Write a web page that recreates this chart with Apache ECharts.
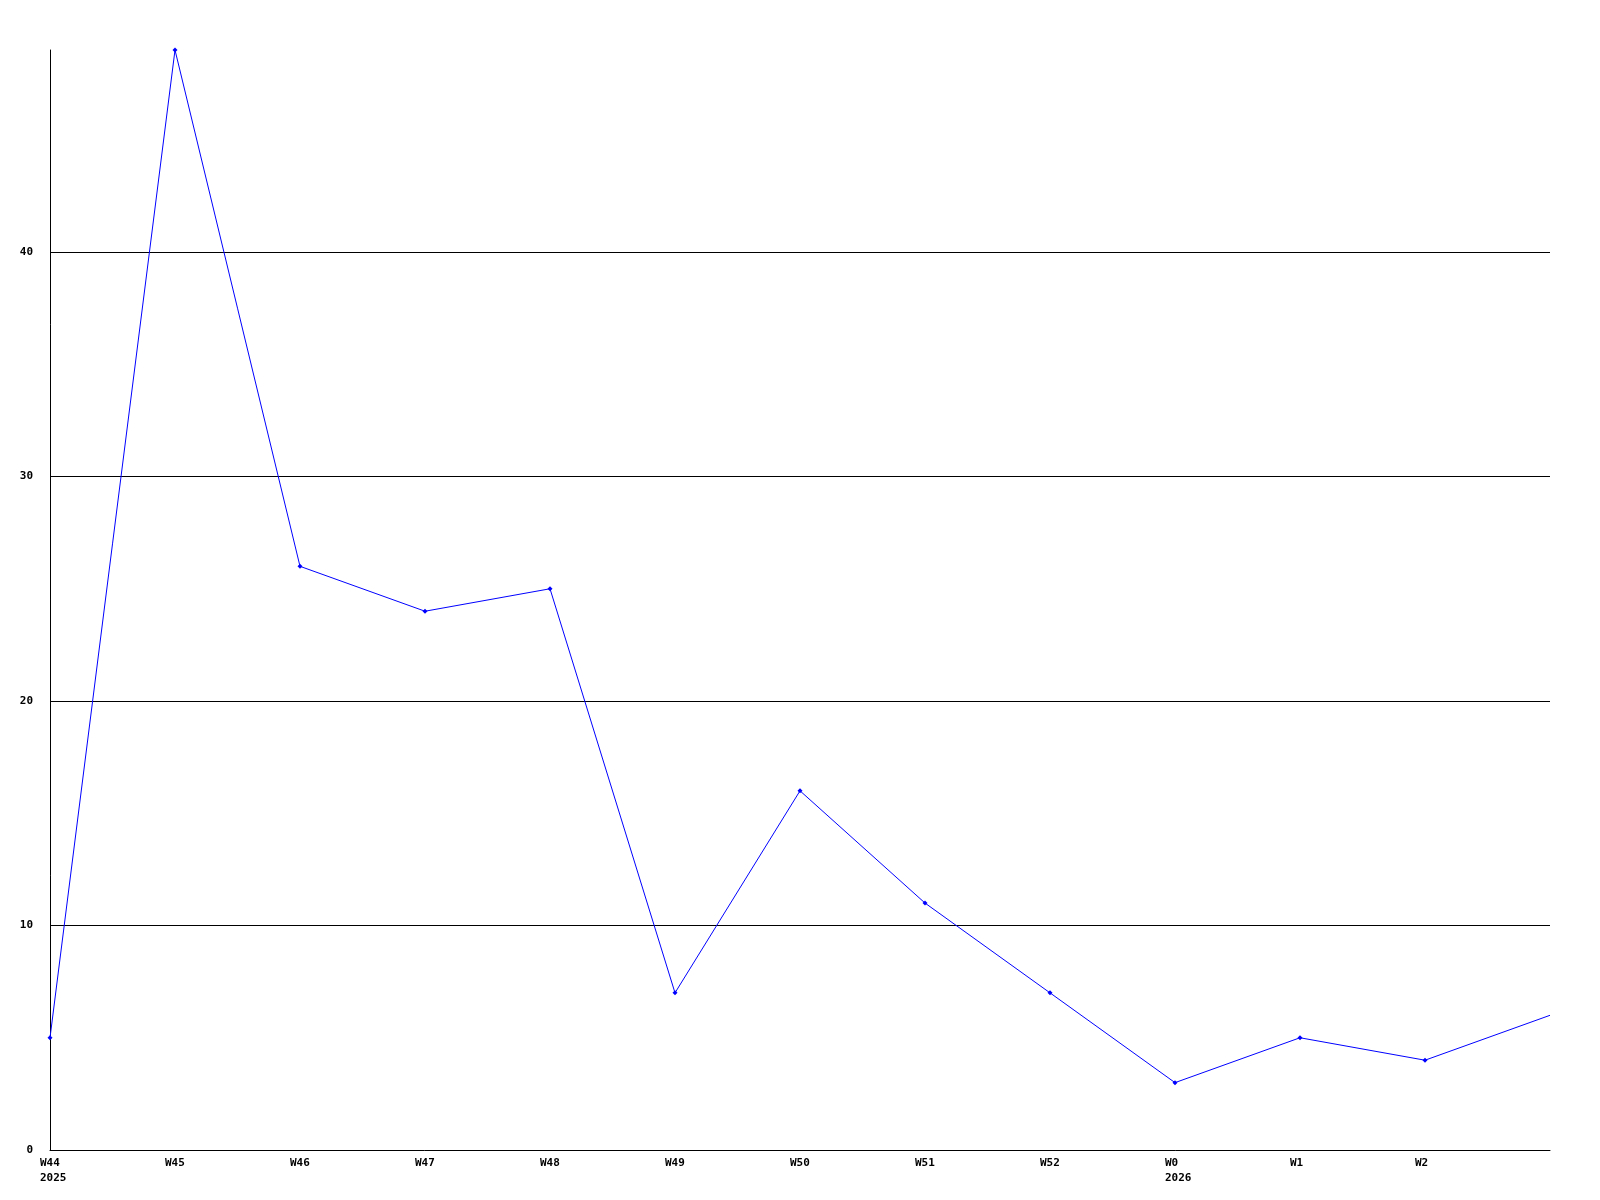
<!DOCTYPE html>
<html>
<head>
<meta charset="utf-8">
<script src="https://cdn.jsdelivr.net/npm/echarts@6/dist/echarts.min.js"></script>
<style>
    html, body { margin: 0; padding: 0; background: #fff; }
    #chart { width: 1600px; height: 1200px; }
</style>
</head>
<body>
<div id="chart"></div>
<script>
// 周次 + 年份
var weeks = ['W44', 'W45', 'W46', 'W47', 'W48', 'W49', 'W50', 'W51', 'W52', 'W0', 'W1', 'W2', 'W3'];
var years = ['2025', '', '', '', '', '', '', '', '', '2026', '', '', ''];
var counts = [5, 49, 26, 24, 25, 7, 16, 11, 7, 3, 5, 4, 6];
var yTicks = [0, 10, 20, 30, 40];

var labelFont = {
    fontFamily: 'DejaVu Sans Mono',
    fontWeight: 'bold',
    fontSize: 11,
    color: '#000'
};

var option = {
    animation: false,
    backgroundColor: '#fff',
    grid: { left: 50, right: 50, top: 50, bottom: 50 },
    xAxis: {
        type: 'category',
        boundaryGap: false,
        data: weeks,
        axisLine: { lineStyle: { color: '#000', width: 1 } },
        axisTick: { show: false },
        splitLine: { show: false },
        axisLabel: Object.assign({
            margin: 6,
            align: 'left',
            lineHeight: 15,
            padding: [0, 0, 0, -10],
            showMaxLabel: false,
            formatter: function (val, i) {
                return years[i] ? val + '\n' + years[i] : val;
            }
        }, labelFont)
    },
    yAxis: {
        type: 'value',
        min: 0,
        max: 49,
        interval: 10,
        axisLine: { show: true, lineStyle: { color: '#000', width: 1 } },
        axisTick: { show: false },
        splitLine: { show: true, showMinLine: false, showMaxLine: false, lineStyle: { color: '#000', width: 1 } },
        axisLabel: Object.assign({
            margin: 17,
            showMaxLabel: false,
            formatter: function (v) {
                return yTicks.indexOf(v) >= 0 ? String(v) : '';
            }
        }, labelFont)
    },
    series: [{
        type: 'line',
        data: counts,
        symbol: function (v, p) {
            return p.dataIndex === counts.length - 1 ? 'none' : 'diamond';
        },
        symbolSize: 5,
        itemStyle: { color: '#0000ff' },
        lineStyle: { color: '#0000ff', width: 1 }
    }]
};

var myChart = echarts.init(document.getElementById('chart'));
myChart.setOption(option);
</script>
</body>
</html>
